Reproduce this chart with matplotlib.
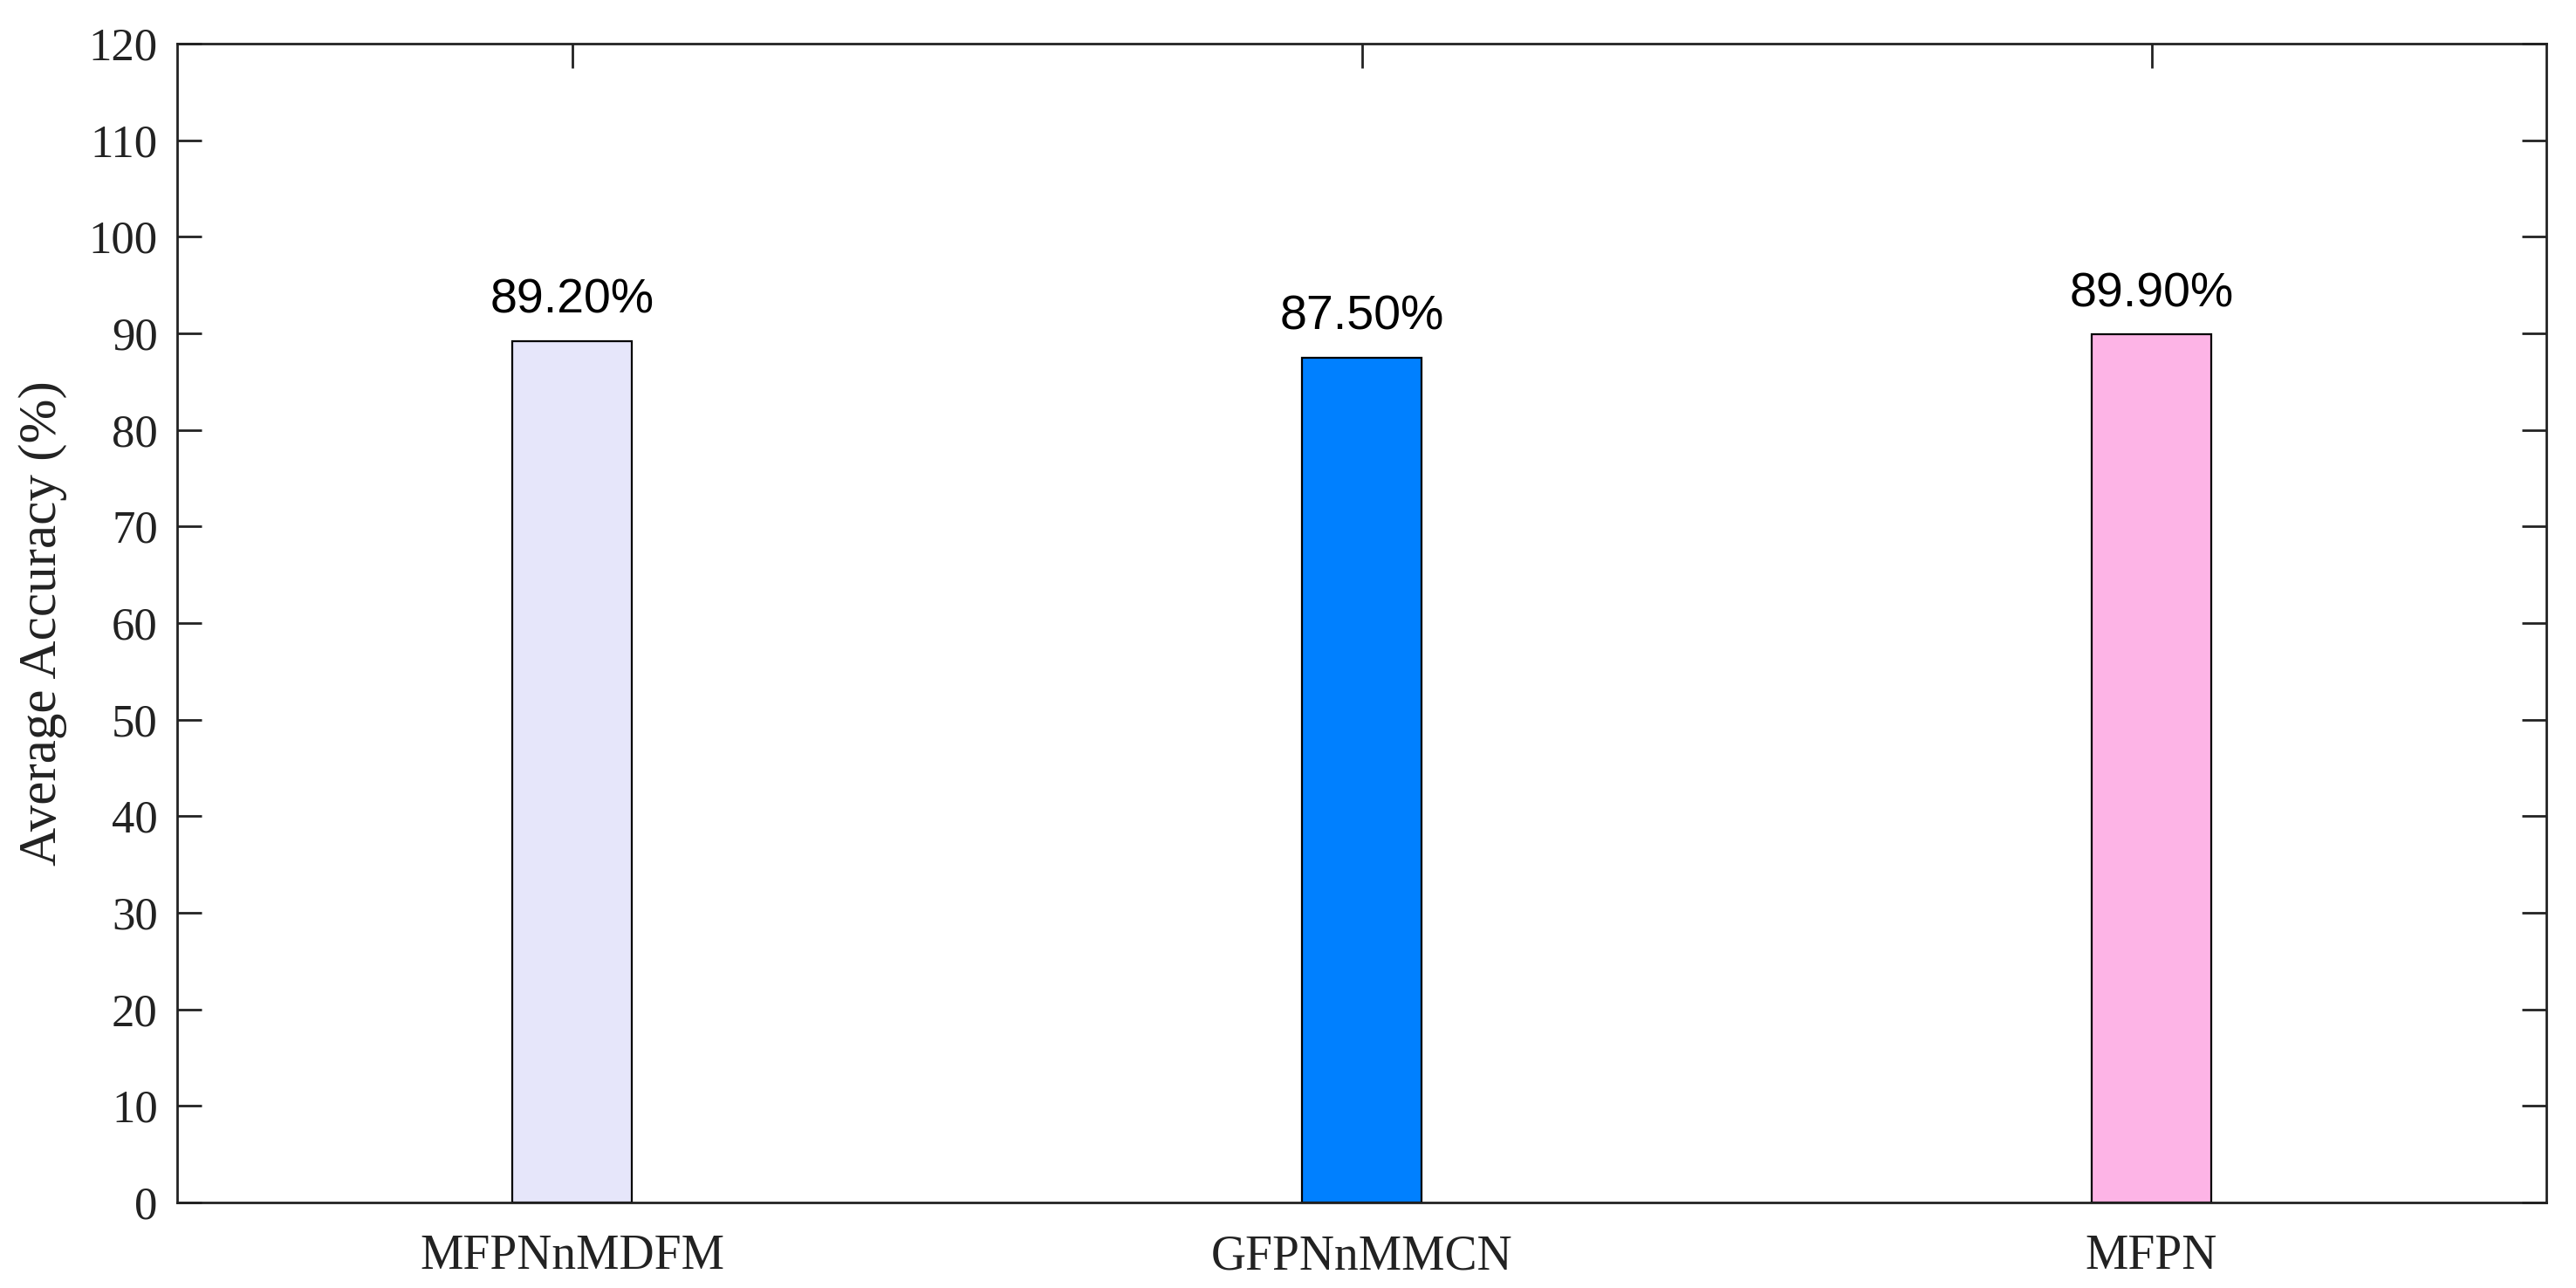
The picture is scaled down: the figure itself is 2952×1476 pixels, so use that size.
import matplotlib
matplotlib.use("Agg")
import matplotlib.pyplot as plt

categories = ["MFPNnMDFM", "GFPNnMMCN", "MFPN"]
values = [89.2, 87.5, 89.9]
labels = ["89.20%", "87.50%", "89.90%"]
colors = ["#E6E6FA", "#0080FF", "#FDB4E6"]
yticks = list(range(0, 121, 10))

fig = plt.figure(figsize=(14.76, 7.38), dpi=200)
ax = fig.add_axes([203/2952, 1 - 1378/1476, (2918-203)/2952, (1378-50)/1476])

x = list(range(1, len(categories) + 1))
ax.bar(x, values, width=0.152, color=colors, edgecolor="black", linewidth=0.8, zorder=2)

for xi, v, lab in zip(x, values, labels):
    ax.text(xi, v + 2.9, lab, ha="center", va="baseline",
            fontfamily="Liberation Sans", fontsize=20, color="black")

ax.set_xlim(0.5, 3.5)
ax.set_ylim(0, 120)
ax.set_yticks(yticks)
ax.set_xticks(x)
ax.set_xticklabels(categories)
ax.set_ylabel("Average Accuracy (%)", fontfamily="Liberation Serif", fontsize=22,
              labelpad=9, color="#222222")

ax.tick_params(axis="both", direction="in", length=10, width=1.0,
               top=True, right=True, colors="#222222", labelcolor="#222222")
ax.tick_params(axis="y", pad=8, labelsize=19)
ax.tick_params(axis="x", pad=13, labelsize=20)
for lab in ax.get_xticklabels() + ax.get_yticklabels():
    lab.set_fontfamily("Liberation Serif")
for s in ax.spines.values():
    s.set_linewidth(1.0)
    s.set_color("#222222")

fig.savefig("out.png", dpi=200, facecolor="white")
